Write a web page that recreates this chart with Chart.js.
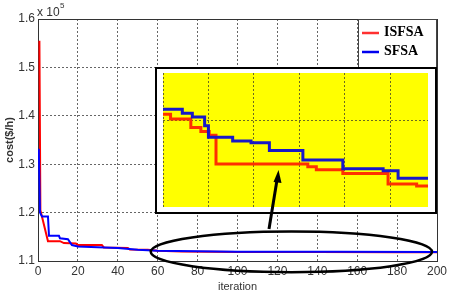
<!DOCTYPE html>
<html>
<head>
<meta charset="utf-8">
<script src="https://cdn.jsdelivr.net/npm/chart.js@4"></script>
<style>
  html, body { margin: 0; padding: 0; background: #fff; }
  #wrap { position: relative; width: 457px; height: 308px; }
  #inset { position: absolute; left: 155px; top: 67px; width: 282px; height: 147px;
           box-sizing: border-box; border: 2px solid #000; background: #fff; }
  #arrow { position: absolute; left: 0; top: 0; pointer-events: none; }
</style>
</head>
<body>
<div id="wrap">
  <canvas id="mainChart" width="457" height="308"></canvas>
  <div id="inset"><canvas id="insetChart"></canvas></div>
  <svg id="arrow" width="457" height="308">
    <line x1="269" y1="229" x2="277" y2="180" stroke="#000" stroke-width="3"/>
    <polygon points="278.5,170 273.5,182 281.5,183" fill="#000"/>
  </svg>
</div>
<script>
// main plot, cost in units of 1e5
const isfsaIter = [0.7, 1.2, 5, 11, 13, 19, 20, 32, 33, 45, 46, 55, 60, 72, 100, 140, 180, 200];
const isfsaCost = [1.555, 1.205, 1.141, 1.141, 1.137, 1.136, 1.133, 1.133, 1.128, 1.127, 1.124, 1.123, 1.121, 1.1195, 1.1188, 1.1184, 1.1183, 1.1182];
const sfsaIter = [0.4, 1, 2, 5, 5.5, 10.5, 11, 15, 17, 20, 40, 50, 60, 100, 150, 200];
const sfsaCost = [1.332, 1.2, 1.192, 1.192, 1.152, 1.152, 1.147, 1.145, 1.133, 1.13, 1.127, 1.123, 1.121, 1.1192, 1.119, 1.1188];

// zoomed view (iterations 60..200), step change points
const insetIsfsaIter = [60, 64, 74.7, 80, 84.4, 88, 136.5, 141, 155, 178.9, 194, 200];
const insetIsfsaCost = [1.11897, 1.11892, 1.11883, 1.11879, 1.11875, 1.11845, 1.11842, 1.11839, 1.11835, 1.11824, 1.11822, 1.11822];
const insetSfsaIter = [60, 70.2, 75.5, 82, 84, 96.8, 106.5, 116.2, 133.9, 155, 176.3, 184.2, 200];
const insetSfsaCost = [1.11902, 1.11898, 1.11894, 1.11885, 1.11873, 1.11869, 1.11867, 1.11859, 1.11849, 1.1184, 1.11838, 1.1183, 1.1183];
const insetXTicks = [60, 84, 108, 132, 156, 180];
const insetYTicks = [1.1189];

// region marked by the ellipse
const zoomIter = [56.5, 197.5];
const zoomCost = [1.077, 1.161];

const toPoints = (xs, ys) => xs.map((x, i) => ({ x: x, y: ys[i] }));

const tickFont = { family: 'Liberation Sans', size: 12 };

const boxPlugin = {
  id: 'matlabBox',
  beforeDatasetsDraw(chart) {
    const { ctx, chartArea: a } = chart;
    ctx.save();
    ctx.strokeStyle = '#333';
    ctx.lineWidth = 1;
    ctx.strokeRect(a.left + 0.5, a.top + 0.5, a.right - a.left, a.bottom - a.top);
    ctx.restore();
  },
  afterDraw(chart) {
    const { ctx, chartArea: a, scales } = chart;
    ctx.save();
    // exponent label
    ctx.fillStyle = '#333';
    ctx.font = '12px "Liberation Sans"';
    ctx.textBaseline = 'alphabetic';
    ctx.fillText('x 10', a.left - 1, a.top - 3);
    ctx.font = '8px "Liberation Sans"';
    ctx.fillText('5', a.left + 22, a.top - 11);

    // ellipse around the tail
    const x0 = scales.x.getPixelForValue(zoomIter[0]);
    const x1 = scales.x.getPixelForValue(zoomIter[1]);
    const y0 = scales.y.getPixelForValue(zoomCost[1]);
    const y1 = scales.y.getPixelForValue(zoomCost[0]);
    ctx.strokeStyle = '#000';
    ctx.lineWidth = 2.5;
    ctx.beginPath();
    ctx.ellipse((x0 + x1) / 2, (y0 + y1) / 2, (x1 - x0) / 2, (y1 - y0) / 2, 0, 0, Math.PI * 2);
    ctx.stroke();

    // legend
    const w = 79, h = 48;
    const lx = a.right - w, ly = a.top;
    ctx.fillStyle = '#fff';
    ctx.fillRect(lx, ly, w, h);
    ctx.strokeStyle = '#444';
    ctx.lineWidth = 1;
    ctx.strokeRect(lx + 0.5, ly + 0.5, w - 1, h);
    const items = [['ISFSA', '#ff3030', 14], ['SFSA', '#0000ee', 33]];
    ctx.font = 'bold 14px "Liberation Serif"';
    ctx.textBaseline = 'middle';
    items.forEach(([label, color, dy]) => {
      ctx.strokeStyle = color;
      ctx.lineWidth = 2.5;
      ctx.beginPath();
      ctx.moveTo(lx + 4, ly + dy);
      ctx.lineTo(lx + 21, ly + dy);
      ctx.stroke();
      ctx.fillStyle = '#000';
      ctx.fillText(label, lx + 26, ly + dy - 1);
    });
    ctx.restore();
  }
};

new Chart(document.getElementById('mainChart'), {
  type: 'line',
  data: {
    datasets: [{
      label: 'ISFSA',
      data: toPoints(isfsaIter, isfsaCost),
      borderColor: '#ff0000',
      borderWidth: 2,
      pointRadius: 0,
      order: 1
    }, {
      label: 'SFSA',
      data: toPoints(sfsaIter, sfsaCost),
      borderColor: '#0000ff',
      borderWidth: 2,
      pointRadius: 0,
      order: 0
    }]
  },
  options: {
    responsive: false,
    animation: false,
    layout: { padding: { top: 19, right: 20, left: 0, bottom: 0 } },
    plugins: { legend: { display: false }, tooltip: { enabled: false } },
    scales: {
      x: {
        type: 'linear', min: 0, max: 200,
        afterFit: (s) => { s.height = 47; },
        ticks: { stepSize: 20, padding: 3, color: '#333', font: tickFont, maxRotation: 0 },
        grid: { color: '#666', drawTicks: false },
        border: { display: false, dash: [2, 2] },
        title: { display: true, text: 'iteration', color: '#333',
                 font: { family: 'Liberation Sans', size: 11 }, padding: { top: 0, bottom: 14 } }
      },
      y: {
        min: 1.1, max: 1.6,
        afterFit: (s) => { s.width = 38; },
        ticks: { stepSize: 0.1, padding: 3, color: '#333', font: tickFont },
        grid: { color: '#666', drawTicks: false },
        border: { display: false, dash: [2, 2] },
        title: { display: true, text: 'cost($/h)', color: '#333',
                 font: { family: 'Liberation Sans', size: 11, weight: 'bold' }, padding: { top: 3, bottom: 0 } }
      }
    }
  },
  plugins: [boxPlugin]
});

const yellowPlugin = {
  id: 'yellowArea',
  beforeDraw(chart) {
    const { ctx, chartArea: a } = chart;
    ctx.save();
    ctx.fillStyle = '#ffff00';
    ctx.fillRect(a.left, a.top, a.right - a.left, a.bottom - a.top);
    ctx.restore();
  }
};

new Chart(document.getElementById('insetChart'), {
  type: 'line',
  data: {
    datasets: [{
      label: 'ISFSA',
      data: toPoints(insetIsfsaIter, insetIsfsaCost),
      borderColor: '#ff3000',
      borderWidth: 3,
      pointRadius: 0,
      stepped: 'before',
      order: 1
    }, {
      label: 'SFSA',
      data: toPoints(insetSfsaIter, insetSfsaCost),
      borderColor: '#1818c8',
      borderWidth: 3,
      pointRadius: 0,
      stepped: 'before',
      order: 0
    }]
  },
  options: {
    responsive: true,
    maintainAspectRatio: false,
    animation: false,
    layout: { padding: { top: 4, right: 7, left: 6, bottom: 5 } },
    plugins: { legend: { display: false }, tooltip: { enabled: false } },
    scales: {
      x: {
        type: 'linear', min: 60, max: 200,
        afterBuildTicks: (s) => { s.ticks = insetXTicks.map(v => ({ value: v })); },
        ticks: { display: false },
        grid: { color: '#6a6a20', drawTicks: false },
        border: { display: false, dash: [2, 2] }
      },
      y: {
        min: 1.118, max: 1.1194,
        afterBuildTicks: (s) => { s.ticks = insetYTicks.map(v => ({ value: v })); },
        ticks: { display: false },
        grid: { color: '#6a6a20', drawTicks: false },
        border: { display: false, dash: [2, 2] }
      }
    }
  },
  plugins: [yellowPlugin]
});
</script>
</body>
</html>
